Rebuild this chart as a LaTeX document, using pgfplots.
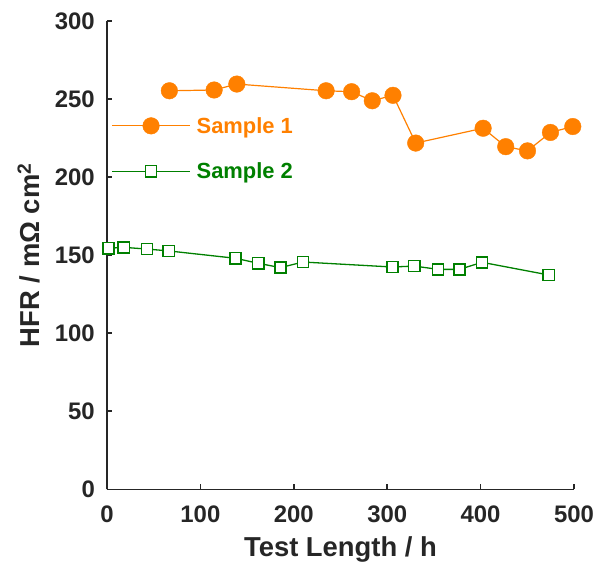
\documentclass[border=0pt]{standalone}
\usepackage{fontspec}
\setmainfont{Liberation Sans}
\usepackage{pgfplots}
\pgfplotsset{compat=1.18}
\definecolor{sorange}{RGB}{255,128,0}
\definecolor{sgreen}{RGB}{0,128,0}
\definecolor{axgray}{RGB}{38,38,38}

\begin{document}
\begin{tikzpicture}
\useasboundingbox (-107bp,-78.7bp) rectangle (491bp,489.3bp);
\begin{axis}[
    scale only axis, width=467bp, height=468.3bp,
    at={(0,0)}, anchor=south west,
    xmin=0, xmax=500, ymin=0, ymax=300,
    xtick={0,100,...,500}, ytick={0,50,...,300},
    axis lines*=left,
    axis line style={axgray, line width=1.6bp},
    tick style={axgray, line width=1.6bp},
    major tick length=5bp,
    tick align=inside,
    clip=false,
    /pgf/number format/assume math mode=true,
    ticklabel style={font=\fontsize{24}{28}\selectfont\bfseries, text=axgray, inner sep=0pt},
    xticklabel style={anchor=base, yshift=-33.4bp},
    yticklabel style={anchor=east, xshift=-12bp},
    xlabel={Test Length / h},
    ylabel={HFR / mΩ cm\textsuperscript{2}},
    label style={font=\fontsize{27.5}{32}\selectfont\bfseries, text=axgray, inner sep=0pt},
    xlabel style={at={([yshift=-66.7bp]axis description cs:0.5,0)}, anchor=base},
    ylabel style={at={([xshift=-78bp]axis description cs:0,0.5)}, anchor=center},
    legend style={draw=none, fill=none, at={(axis cs:4.5,218.3)}, anchor=west,
        font=\fontsize{22}{26}\selectfont\bfseries, inner sep=0pt,
        row sep=24bp,
        /tikz/every odd column/.style={column sep=4bp}},
    legend image code/.code={\draw[mark repeat=2, mark phase=2] plot coordinates {(0bp,0bp) (39bp,0bp) (78bp,0bp)};},
]
% Sample 1
\addplot [color=sorange, line width=1.2bp, mark=*, mark size=8.3bp,
    mark options={fill=sorange, draw=sorange, line width=0.4bp}] coordinates {
    (66.8,255.3) (114.7,255.8) (139,259.6) (234.6,255.3) (261.9,254.7)
    (284,248.9) (306.2,252.4) (330.5,221.8) (402.7,231.3) (426.9,219.5)
    (450.2,216.8) (474.8,228.6) (498.7,232.4)
};
\addlegendentry{\textcolor{sorange}{Sample 1}}
% Sample 2
\addplot [color=sgreen, line width=1.3bp, mark=square*, mark size=5.6bp,
    mark options={fill=white, draw=sgreen, line width=1.6bp}] coordinates {
    (1.4,154.4) (17.9,155) (42.9,153.9) (66.1,152.7) (137.5,148)
    (161.8,144.8) (185.7,142) (209.8,145.6) (305.5,142.4) (329,143)
    (354.4,140.9) (377.3,140.9) (401.6,145.4) (473,137.3)
};
\addlegendentry{\textcolor{sgreen}{Sample 2}}
\end{axis}
\end{tikzpicture}
\end{document}
